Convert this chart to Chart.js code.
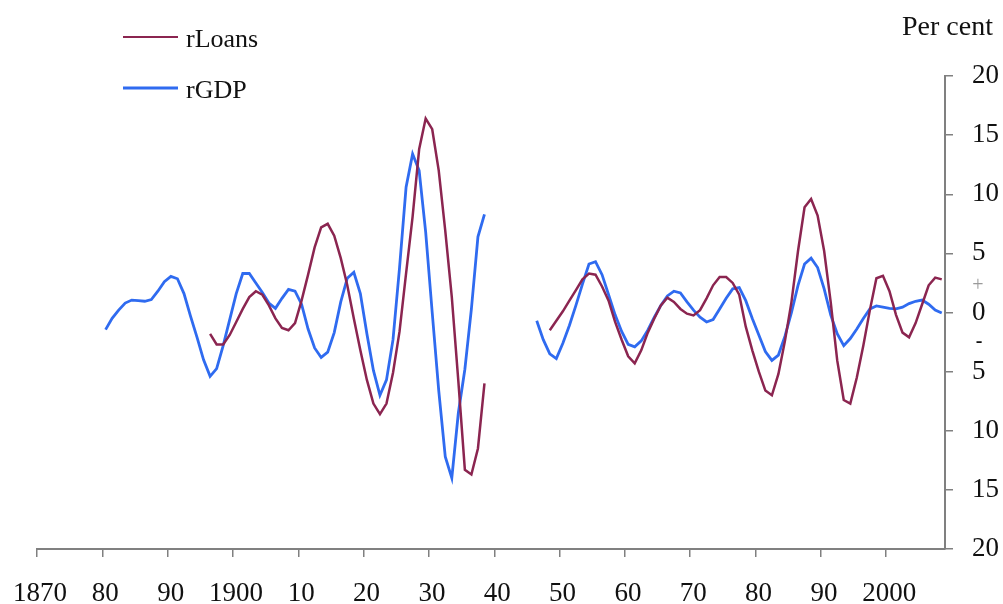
<!DOCTYPE html>
<html>
<head>
<meta charset="utf-8">
<script src="https://cdn.jsdelivr.net/npm/chart.js@4/dist/chart.umd.min.js"></script>
<style>
  html, body { margin: 0; padding: 0; background: #fff; }
  canvas { display: block; }
</style>
</head>
<body>
<canvas id="myChart" width="1003" height="604"></canvas>
<script>
// Annual values, per cent
const gdpPreStart = 1880;
const gdpPre = [
  -1.45, -0.5, 0.2, 0.8, 1.05, 1.0, 0.95, 1.1, 1.8, 2.6,
  3.05, 2.85, 1.6, -0.3, -2.1, -4.0, -5.4, -4.75, -2.8, -0.6,
  1.6, 3.3, 3.3, 2.5, 1.7, 0.8, 0.35, 1.2, 1.95, 1.8,
  0.7, -1.4, -3.0, -3.8, -3.35, -1.7, 0.9, 2.9, 3.4, 1.6,
  -1.8, -4.9, -7.0, -5.7, -2.3, 3.8, 10.6, 13.4, 12.0, 6.8,
  0.0, -6.6, -12.2, -14.0, -8.5, -4.8, 0.3, 6.4, 8.3
];
const gdpPostStart = 1946;
const gdpPost = [
  -0.7, -2.3, -3.5, -3.9, -2.6, -1.1, 0.6, 2.4, 4.1, 4.3,
  3.2, 1.5, -0.2, -1.6, -2.7, -2.9, -2.4, -1.5, -0.4, 0.6,
  1.4, 1.8, 1.65, 0.9, 0.2, -0.4, -0.8, -0.6, 0.3, 1.2,
  2.0, 2.1, 1.0, -0.5, -1.9, -3.3, -4.05, -3.6, -2.0, 0.0,
  2.3, 4.1, 4.6, 3.8, 2.0, -0.2, -1.8, -2.8, -2.2, -1.4,
  -0.5, 0.3, 0.55, 0.45, 0.35, 0.3, 0.45, 0.75, 0.95, 1.05,
  0.7, 0.2, -0.05
];
const loansPreStart = 1896;
const loansPre = [
  -1.8, -2.7, -2.7, -1.9, -0.8, 0.3, 1.3, 1.8, 1.5, 0.6,
  -0.5, -1.3, -1.5, -0.9, 1.0, 3.2, 5.5, 7.2, 7.5, 6.5,
  4.6, 2.3, -0.5, -3.2, -5.7, -7.7, -8.6, -7.7, -5.1, -1.6,
  3.3, 8.1, 13.8, 16.4, 15.5, 12.0, 6.9, 1.3, -5.8, -13.3,
  -13.7, -11.5, -6.0
];
const loansPostStart = 1948;
const loansPost = [
  -1.5, -0.7, 0.1, 1.0, 1.9, 2.8, 3.3, 3.2, 2.2, 1.0,
  -0.8, -2.3, -3.7, -4.3, -3.2, -1.7, -0.5, 0.6, 1.25, 0.9,
  0.3, -0.1, -0.25, 0.2, 1.2, 2.3, 3.0, 3.0, 2.5, 1.5,
  -1.2, -3.2, -5.0, -6.6, -7.0, -5.2, -2.4, 0.9, 5.2, 8.9,
  9.6, 8.2, 5.2, 0.9, -4.05, -7.4, -7.7, -5.5, -2.8, 0.2,
  2.9, 3.1, 1.8, -0.2, -1.7, -2.1, -0.9, 0.7, 2.3, 2.95,
  2.8
];
const gapYear = 1942;

const xTickYears = [1870, 1880, 1890, 1900, 1910, 1920, 1930, 1940, 1950, 1960, 1970, 1980, 1990, 2000];
const xTickLabels = ['1870', '80', '90', '1900', '10', '20', '30', '40', '50', '60', '70', '80', '90', '2000'];
const yTickValues = [-20, -15, -10, -5, 0, 5, 10, 15, 20];
const yTickLabels = ['20', '15', '10', '5', '0', '5', '10', '15', '20'];

const seriesNames = ['rLoans', 'rGDP'];
const seriesColors = ['#8B2550', '#2F6BF0'];

// join the two periods with a null point so the line breaks over the war
function toPoints(start1, vals1, start2, vals2) {
  const pts = vals1.map((v, i) => ({ x: start1 + i, y: v }));
  pts.push({ x: gapYear, y: null });
  vals2.forEach((v, i) => pts.push({ x: start2 + i, y: v }));
  return pts;
}

const font = 'Liberation Serif';

// legend, unit label and the +/- marks beside the zero line
const extras = {
  id: 'extras',
  afterDraw(chart) {
    const c = chart.ctx;
    c.save();
    c.textBaseline = 'alphabetic';
    c.textAlign = 'left';
    const rows = [37, 88];
    const widths = [2, 3];
    rows.forEach((y, i) => {
      c.strokeStyle = seriesColors[i];
      c.lineWidth = widths[i];
      c.beginPath();
      c.moveTo(123, y);
      c.lineTo(178, y);
      c.stroke();
      c.fillStyle = '#111';
      c.font = '26px "' + font + '"';
      c.fillText(seriesNames[i], 186, y + 10);
    });
    c.font = '28px "' + font + '"';
    c.fillStyle = '#111';
    c.fillText('Per cent', 902, 35);
    const ys = chart.scales.y;
    c.textAlign = 'center';
    c.textBaseline = 'middle';
    c.font = '20px "' + font + '"';
    c.fillStyle = '#9a9a9a';
    c.fillText('+', 978, ys.getPixelForValue(2.3));
    c.font = 'bold 20px "' + font + '"';
    c.fillStyle = '#111';
    c.fillText('-', 979, ys.getPixelForValue(-2.5));
    c.restore();
  }
};

const canvas = document.getElementById('myChart');
const ctx = canvas.getContext('2d');

new Chart(ctx, {
  type: 'line',
  data: {
    datasets: [
      {
        label: seriesNames[0],
        data: toPoints(loansPreStart, loansPre, loansPostStart, loansPost),
        borderColor: seriesColors[0],
        borderWidth: 2.5,
        pointRadius: 0,
        tension: 0,
        spanGaps: false
      },
      {
        label: seriesNames[1],
        data: toPoints(gdpPreStart, gdpPre, gdpPostStart, gdpPost),
        borderColor: seriesColors[1],
        borderWidth: 2.8,
        pointRadius: 0,
        tension: 0,
        spanGaps: false
      }
    ]
  },
  options: {
    responsive: false,
    animation: false,
    layout: { padding: { left: 37, top: 76, right: 0, bottom: 0 } },
    plugins: { legend: { display: false }, tooltip: { enabled: false } },
    scales: {
      x: {
        type: 'linear',
        min: 1869.5,
        max: 2008.5,
        afterBuildTicks: (s) => { s.ticks = xTickYears.map(v => ({ value: v - 0.5 })); },
        afterFit: (s) => { s.height = 55; s.paddingLeft = 0; s.paddingRight = 0; },
        grid: { drawOnChartArea: false, tickLength: 8, color: '#808080', lineWidth: 1.5 },
        border: { color: '#808080', width: 2 },
        ticks: {
          autoSkip: false,
          maxRotation: 0,
          padding: 21,
          labelOffset: 3,
          color: '#111',
          font: { family: font, size: 27, lineHeight: 1.2 },
          callback: (v) => xTickLabels[xTickYears.indexOf(Math.round(v + 0.5))]
        }
      },
      y: {
        position: 'right',
        min: -20,
        max: 20,
        afterBuildTicks: (s) => { s.ticks = yTickValues.map(v => ({ value: v })); },
        afterFit: (s) => { s.width = 58; s.paddingTop = 0; s.paddingBottom = 0; },
        grid: { drawOnChartArea: false, tickLength: 8, color: '#808080', lineWidth: 1.5 },
        border: { color: '#808080', width: 2 },
        ticks: {
          padding: 19,
          color: '#111',
          font: { family: font, size: 27 },
          callback: (v) => yTickLabels[yTickValues.indexOf(v)]
        }
      }
    }
  },
  plugins: [extras]
});
</script>
</body>
</html>
